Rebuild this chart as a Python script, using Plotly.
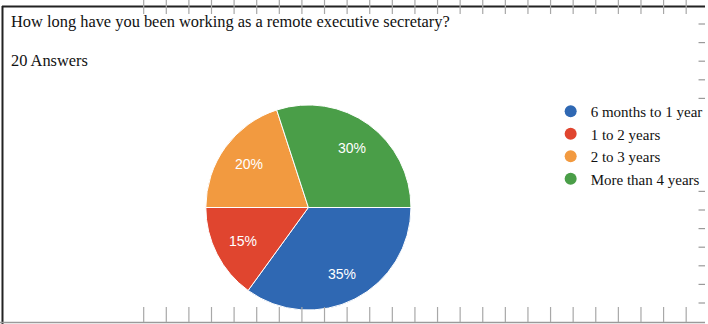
import math
import plotly.graph_objects as go

# ---- data ----
categories = ["6 months to 1 year", "1 to 2 years", "2 to 3 years", "More than 4 years"]
shares = [35, 15, 20, 30]
colors = ["#2f68b3", "#e0452f", "#f29a40", "#4a9e48"]
question = "How long have you been working as a remote executive secretary?"
answers_label = "20 Answers"

W, H = 708, 324
CX, CY, R = 309.7, 207.5, 103   # pie centre / radius in pixels
START = 90                       # first slice starts at 3 o'clock

def px(x):
    return x / W

def py(y):
    return 1 - y / H

fig = go.Figure()

fig.add_trace(go.Pie(
    labels=categories,
    values=shares,
    sort=False,
    direction="clockwise",
    rotation=START,
    marker=dict(colors=colors, line=dict(color="white", width=1)),
    textinfo="none",
    domain=dict(x=[px(CX - R), px(CX + R)], y=[py(CY + R), py(CY - R)]),
    showlegend=False,
    hoverinfo="label+percent",
))

# legend entries with round markers
for c, col in zip(categories, colors):
    fig.add_trace(go.Scatter(
        x=[None], y=[None], mode="markers", name=c,
        marker=dict(symbol="circle", size=12, color=col),
        showlegend=True,
    ))

# percent labels placed at the middle of each slice
annotations = []
total = sum(shares)
acc = 0
for s in shares:
    mid = START + (acc + s / 2) / total * 360
    acc += s
    r = 0.72 * R
    x = CX + r * math.sin(math.radians(mid))
    y = CY - r * math.cos(math.radians(mid))
    annotations.append(dict(text=f"{round(s / total * 100)}%", xref="paper", yref="paper",
                            x=px(x), y=py(y), xanchor="center", yanchor="middle", showarrow=False,
                            font=dict(family="Liberation Sans", size=14, color="white")))

shapes = []
# frame: top and left dark border, bottom grey line
shapes.append(dict(type="line", xref="paper", yref="paper", x0=px(2), x1=1, y0=py(6.5), y1=py(6.5),
                   line=dict(color="#222222", width=2)))
shapes.append(dict(type="line", xref="paper", yref="paper", x0=px(2.5), x1=px(2.5), y0=py(6), y1=0,
                   line=dict(color="#222222", width=2)))
shapes.append(dict(type="line", xref="paper", yref="paper", x0=0, x1=1, y0=py(322.5), y1=py(322.5),
                   line=dict(color="#9a9a9a", width=1.5)))
# ruler ticks (top and bottom)
k = 0
while 144.3 + 22.7 * k < W:
    xx = 144.3 + 22.7 * k
    shapes.append(dict(type="line", xref="paper", yref="paper", x0=px(xx), x1=px(xx), y0=py(0), y1=py(14),
                       line=dict(color="#a8a8a8", width=1.2)))
    shapes.append(dict(type="line", xref="paper", yref="paper", x0=px(xx), x1=px(xx), y0=py(307), y1=py(322),
                       line=dict(color="#a8a8a8", width=1.2)))
    k += 1
# ruler ticks on the right
k = 0
while 24 + 18.6 * k < 305:
    yy = 24 + 18.6 * k
    if not (105 < yy < 185):
        shapes.append(dict(type="line", xref="paper", yref="paper", x0=px(701.5), x1=1, y0=py(yy), y1=py(yy),
                           line=dict(color="#9a9a9a", width=1.2)))
    k += 1

annotations += [
    dict(text=question, xref="paper", yref="paper", x=px(9), y=py(22), xanchor="left", yanchor="middle",
         showarrow=False, font=dict(family="Liberation Serif", size=16.4, color="#111111")),
    dict(text=answers_label, xref="paper", yref="paper", x=px(9), y=py(61), xanchor="left", yanchor="middle",
         showarrow=False, font=dict(family="Liberation Serif", size=16.4, color="#111111")),
]

fig.update_layout(
    width=W, height=H,
    margin=dict(l=0, r=0, t=0, b=0),
    paper_bgcolor="white", plot_bgcolor="white",
    xaxis=dict(visible=False), yaxis=dict(visible=False),
    shapes=shapes,
    annotations=annotations,
    legend=dict(x=px(553), y=py(95), xanchor="left", yanchor="top",
                font=dict(family="Liberation Serif", size=15, color="#111111"),
                bgcolor="rgba(255,255,255,0)", borderwidth=0, itemwidth=30, tracegroupgap=0),
)

fig.write_html("out.html")
